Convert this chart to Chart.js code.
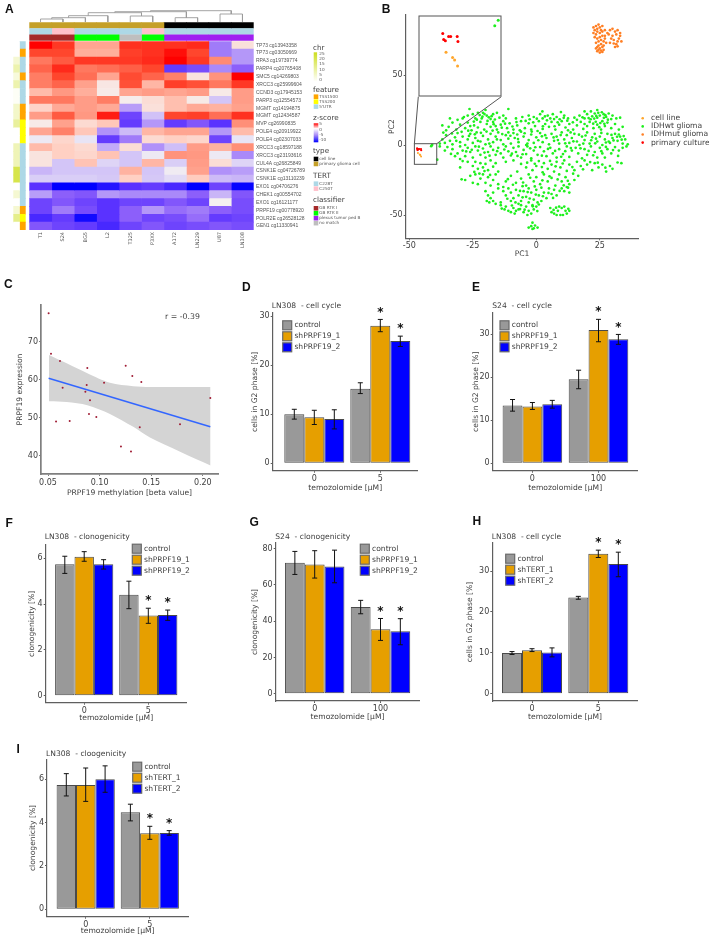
<!DOCTYPE html>
<html>
<head>
<meta charset="utf-8">
<title>PRPF19 figure</title>
<script src="https://cdn.jsdelivr.net/npm/chart.js@4"></script>
<style>
  body { margin: 0; background: #fff; }
  #page { position: relative; width: 709px; height: 936px; overflow: hidden; background: #fff; }
  .letter { position: absolute; font: bold 12px "Liberation Sans"; line-height: 12px; color: #111; }
</style>
</head>
<body>
<div id="page"></div>
<script>
// ---- panel A: heatmap
const samples = ['T1', 'S24', 'BG5', 'L2', 'T325', 'P3XX', 'A172', 'LN229', 'U87', 'LN308'];
const probes = ['TP73 cg13943358', 'TP73 cg03050669', 'RPA3 cg19739774', 'PARP4 cg20765408', 'SMC5 cg14269803',
  'XRCC3 cg25999604', 'CCND3 cg17945153', 'PARP3 cg12554573', 'MGMT cg14194875', 'MGMT cg12434587',
  'MVP cg26990835', 'POLE4 cg20919922', 'POLE4 cg02307033', 'XRCC3 cg18597188', 'XRCC3 cg23193616',
  'CUL4A cg26825849', 'CSNK1E cg04726789', 'CSNK1E cg13110239', 'EXO1 cg04706276', 'CHEK1 cg00554702',
  'EXO1 cg16121177', 'PRPF19 cg00778920', 'POLR2E cg26528128', 'GEN1 cg11330941'];
const zScores = [
  [5, 4.2, 2, 2, 4.3, 4.3, 4.3, 4.4, -4, 0.5],
  [4, 4, 1.8, 1.8, 4.1, 4.3, 4.8, 4, -4, -3],
  [3, 3.6, 4.2, 4.2, 4.2, 4.4, 5, 4.2, 2.6, -3],
  [3.4, 4.4, 3, 3.2, 3.5, 4, -7, -6, -3.5, -5],
  [2.9, 4, 3.2, 2, 3.9, 3.4, 2.8, 0.4, 2.4, 5],
  [2.9, 3.4, 2.1, 0.3, 3.8, 1.6, 4.1, 3.8, 3, 4.2],
  [1.5, 2.3, 1.8, 0.2, 2, 2.2, 2, 2.2, 0.2, 2.2],
  [3, 3, 2.2, 2.9, 0.1, 0.6, 1.4, 0.2, -1.5, 2.2],
  [0.9, 1.9, 2.2, 1.9, -2.8, 0.5, 1.4, 1.9, 1.7, 2.1],
  [2.2, 3.6, 2.3, 4.6, -6.5, -1.6, 4, 4.1, 3.2, 4.3],
  [0.2, 2.1, 0.7, 1.2, -7, -3, -7, -5.5, -7.5, 2.5],
  [2, 2.8, 1.2, -3.2, -1.8, 1.6, 2, 2, -3, 1.5],
  [-0.3, 0.8, -0.5, -7, -4, 0.7, 1, 0.8, -6.5, -0.5],
  [1.5, 1, 0.7, -2.3, 0.6, -3.2, -1.7, 2.2, 1.7, 2.5],
  [0.4, 1, 0.8, 1.3, -1.5, -0.3, 2.4, 2.3, -0.3, -3.5],
  [0.4, -1.5, 1.3, -1, -1.5, 1.6, -1.2, 2.2, 0.6, -1],
  [-2, -1.5, -1.5, -1.5, 1.7, -1.5, -0.2, 2.1, -3.2, -2.8],
  [-1.2, -1.2, -1.2, -1.4, 1, -1.4, -0.8, 1.1, -1.8, -2],
  [-7.5, -10, -10, -9, -7.5, -7, -8, -10, -6.5, -9.8],
  [-2.8, -5, -5.5, -3, -3.5, -3.5, -3.5, -5, -2, -5.5],
  [-6.5, -5.5, -6.5, -7.5, -6.5, -6.5, -5.5, -6.5, 0, -6],
  [-6.5, -4, -6, -7.5, -5, -3, -4.5, -4, -5, -6],
  [-8, -7, -9.5, -7.5, -5, -6.5, -6, -4.5, -7, -6.5],
  [-5.5, -6.5, -7, -8, -6.5, -5.5, -6.5, -6, -5.5, -6]
];
const chrValues = [0, 0, 5, 9, 4, 9, 1, 1, 6, 6, 11, 0, 0, 8, 8, 8, 20, 20, 0, 5, 0, 5, 13, 0];
const featureRows = ['5UTR', 'TSS1500', '5UTR', '5UTR', 'TSS1500', '5UTR', '5UTR', '5UTR', 'TSS1500', 'TSS1500', 'TSS200', 'TSS200',
  'TSS200', '5UTR', '5UTR', '5UTR', '5UTR', '5UTR', '5UTR', '5UTR', '5UTR', 'TSS1500', 'TSS200', 'TSS1500'];
const typeCols = ['glioma', 'glioma', 'glioma', 'glioma', 'glioma', 'glioma', 'line', 'line', 'line', 'line'];
const tertCols = ['C228T', 'C250T', 'C228T', 'C228T', 'C228T', 'C250T', 'C228T', 'C228T', 'C228T', 'C228T'];
const classCols = ['rtk1', 'rtk1', 'rtk2', 'rtk2', 'none', 'rtk2', 'plexus', 'plexus', 'plexus', 'plexus'];
const dendroX = [0.5, 0.5, 1.5, 1.5, null, 1, 1, 2.5, 2.5, null, 1.75, 1.75, 3.5, 3.5, null, 4.5, 4.5, 5.5, 5.5, null,
  2.625, 2.625, 5, 5, null, 6.5, 6.5, 7.5, 7.5, null, 3.81, 3.81, 7, 7, null, 8.5, 8.5, 9.5, 9.5, null, 5.4, 5.4, 9, 9];
const dendroH = [0, 3, 3, 0, null, 3, 4.3, 4.3, 0, null, 4.3, 6.3, 6.3, 0, null, 0, 6, 6, 0, null,
  6.3, 9.3, 9.3, 6, null, 0, 4.3, 4.3, 0, null, 9.3, 10.3, 10.3, 4.3, null, 0, 8, 8, 0, null, 10.3, 11.3, 11.3, 8];

// ---- panel B: PCA
const gliomaPoints = [
  [-26.3,25.7],[-20,25],[-11,25.7],[2.4,24],[9.7,23.5],[19,24],[21.5,24],[24,25],
  [-34,19],[-31,18],[-28.5,20],[-27,21],[-25,22],[-23,23],[-21,23],[-19.5,21],[-17,22],[-15.5,23],[-13,21],[-12,19],[-24,19],[-21.5,19],[-18,18.5],[-14.5,19.5],[-8,19],[-5.5,20],[-3,21],[-1,20],[1.5,22],[4.5,21],[6.5,22],[8,20],[11,21],[12.5,19],[15,19.5],[17,21],[20,22],[22,20.5],[23,22.5],[25,21],[26.5,22],[27.5,20],[28.5,22.5],[30,21],[31.5,19],[33,19.5],[-29,19],[5.5,19],[7,18.5],[2.5,19],[16,18],[19,19],[24,19.5],[29.5,18.5],
  [-37,14],[-34.5,13],[-33,16],[-31.5,11],[-30,14.5],[-28,12],[-27,16],[-25.5,10.5],[-24.5,14],[-23,12.5],[-22,16.5],[-20.5,11],[-19.5,15],[-18,13],[-17,16.5],[-15.5,11],[-14,14.5],[-13,17],[-11.5,12],[-10.5,15.5],[-9,11],[-7.5,14],[-6,17],[-4.5,12],[-3,15.5],[-2,11],[-0.5,13.5],[1,17],[2.5,11.5],[3.5,15],[5,13],[6,16.5],[7.5,11],[9,14.5],[10,17],[11.5,12.5],[13,15],[14.5,11],[16,14],[17.5,16.5],[18.5,11.5],[20,13.5],[21,16.5],[22.5,12],[24,14.5],[25.5,11],[27,13.5],[28,16],[29.5,12],[31,15],[32.5,11],[34,13],[-35.5,10.5],[-26,13.5],[-16,13.5],[-6.5,10.5],[0.5,10],[12.5,10.5],[26,17],[19,15],
  [-38,1],[-37,4],[-35.5,7],[-34,3],[-33,0.5],[-32,5.5],[-31,8.5],[-30,2],[-29,6],[-28,0],[-27,4],[-26,8],[-25,1.5],[-24,5],[-23.5,9],[-22,2.5],[-21,6.5],[-20,0.5],[-19,4],[-18,8],[-17,2],[-16,6],[-15,9],[-14,3.5],[-13,0.5],[-12,7],[-11,4.5],[-10,1],[-9,8.5],[-8.5,5],[-7,2],[-6,9.5],[-5,6],[-4,0],[-3,3.5],[-2,7.5],[-1,1.5],[0,5.5],[1.5,8.5],[2.5,2],[4,5],[5,0.5],[6,8],[7,3],[8,6],[9,1],[10,9],[11,4],[12,7],[13,1.5],[14,5],[15,8],[16,2.5],[17,0],[18,6],[19,3.5],[20,9],[21,1],[22,5.5],[23,8],[24,2.5],[25,6],[26,0],[27,4],[28,8],[29,1.5],[30,5],[31,8],[32,3],[33,6],[34,1],[35,4],[36,0.5],[-36,1.5],[-31.5,3],[-26.5,6.5],[-23,3],[-18.5,1],[-15.5,4],[-11,9],[-7.5,7.5],[-3.5,1],[3.5,7],[8.5,3.5],[13.5,9],[18.5,1],[23.5,4.5],[28.5,2.5],[32.5,7.5],
  [-38,-1],[-36,-4],[-35,-1.5],[-33,-3],[-31,-6],[-30,-1],[-29,-4],[-28,-8],[-27,-2],[-26,-5],[-25,-9],[-24,-1],[-23,-4],[-22,-7],[-21,-2.5],[-20,-9],[-19,-5],[-18,-1],[-17,-3.5],[-16,-7],[-15,-2],[-14,-6],[-13,-9],[-12,-1],[-11,-4.5],[-10,-7.5],[-9,-2],[-8,-5],[-7,-1],[-6,-9],[-5,-3.5],[-4,-6.5],[-3.5,-1],[-2,-9.5],[-1,-4],[0.5,-7],[1.5,-1.5],[3,-4.5],[4,-8],[5.5,-2],[6.5,-6],[8,-9],[9,-3],[10.5,-6.5],[12,-1],[13,-8.5],[14,-4],[15.5,-2],[16.5,-6],[18,-9.5],[19,-3],[20,-7],[21.5,-1],[23,-5],[24,-9],[25,-2],[26,-6],[27,-9],[28,-3],[29.5,-6],[31,-1.5],[32.5,-4],[34,-2],[35.5,-1],[-39,-10.5],[-32,-8],[-30,-10],
  [-30,-16],[-29,-11.5],[-27,-12],[-24,-12],[-22,-13],[-20,-13.5],[-18,-11],[-16,-13],[-12,-12],[-9,-11],[-6,-13.5],[-4,-16],[-2,-11],[0,-15],[1,-11.5],[3,-13],[4.5,-17],[6,-14],[8,-12],[9.5,-16],[11,-11],[13,-14],[15,-18],[16,-12],[17.5,-15],[19,-11],[20,-14],[22,-18],[23,-13],[24.5,-16],[26,-14],[27.5,-19],[29,-15],[30,-17],[32,-12.5],[33.5,-13],[-25,-15],[-23,-17],[-21,-16],[-19,-18],[-17,-15.5],[-15,-19],[-7.5,-19],[-1.5,-18],[2.5,-19.5],[7,-19],[12,-18.5],
  [-28,-25],[-26,-22],[-25,-27],[-24,-21],[-23,-28],[-22,-24],[-21,-21],[-20,-27],[-19,-23],[-18,-29],[-17,-25],[-16,-21],[-15,-28],[-12,-26],[-13,-30],[-10,-22],[-8,-27],[-6,-24],[-4,-29],[-3,-21],[-1,-26],[0,-23],[1.5,-28],[3,-21],[4.5,-26],[6,-23.5],[7.5,-29],[9,-21],[10,-26],[11.5,-23],[13,-28],[14.5,-20.5],[15,-25],[16.5,-22],[12,-30],[-29.4,-24.5],
  [-20,-33],[-19,-36],[-18,-38],[-17,-34],[-19.5,-40],[-18.5,-41],[-17,-40],[-15,-31],[-13,-33],[-12,-36],[-11,-31],[-10,-34],[-9,-38],[-8,-32],[-7,-36],[-6,-40],[-5,-33],[-4,-37],[-3,-31],[-2,-34],[-1,-39],[0,-32],[1,-36],[2,-30.5],[3,-34],[4,-38],[5,-31],[6,-35],[7,-32],[8,-36],[10,-31],[11,-33],[12.5,-30.5],[13,-34],[-14,-41],[-10,-40],[-7,-42],[-3,-41],[-1.5,-43],[0.5,-41],[2,-40],
  [-16,-42],[-14,-43],[-12,-44],[-11,-47],[-10,-48],[-9,-45],[-8,-47],[-7,-46],[-6,-43],[-5,-48],[-4,-44],[-3,-47],[-2,-49],[-1,-46],[0,-44],[1,-42.5],[-12.5,-46],[-8.5,-49],[-3.5,-50],[5.5,-45],[6,-48],[7,-49],[8,-50],[9,-44],[10,-45],[11,-44],[11.5,-47],[12,-49],[13,-47],[9.5,-50],[10.5,-50],[8.5,-47],
  [-1.5,-55.5],[-2,-58],[-3,-59],[-1,-59.5],[-0.5,-57.5],[0.5,-59],[-1.5,-60],
  [-41.37,-0.87],[-41,0.15],
  [-22.3,21.4],[-21.2,20.2],[-20.4,22.1],[-18.7,19.8],[-17.6,20.6],[-16.3,18.2],[-24.6,16.7],[-23.4,18.1],[-19.2,17.2],[-16.8,14.9],[-13.6,12.4],[-12.3,15.2],[-26.8,10.2],[-29.4,9.4],[-33.2,8.3],[-36.6,8.9],[-24.2,7.6],[-21.8,8.7],[-19.6,9.6],[-17.2,10.3],[-13.4,7.8],[-10.2,6.6],[-7.2,4.2],[-4.6,8.4],[-1.8,9.6],[0.8,3.4],[2.2,6.2],[6.8,5.4],[9.6,7.1],[11.4,1.2],[14.6,2.6],[16.8,7.4],[19.4,6.8],[21.6,3.4],[23.2,1.2],[25.6,8.6],[27.4,1.8],[29.6,7.2],[30.4,3.3],[33.6,3.8],[31.8,5.9],[34.4,6.4],
  [20.6,19.2],[21.4,18.4],[22.8,18.9],[23.6,20.8],[24.4,23],[25.8,23.4],[26.6,19.4],[27.2,21.3],[28.2,18.1],[22.4,15.2],[23.4,16.6],[25.2,15.7],[26.8,15.1],[24.8,12.7],[18.2,19.8],[14.4,16.2],[12.2,17.4],[8.4,16.2],[7.2,13.4],[4.2,17.6],[2.6,13.4],[-1.2,16.2],[-4.2,17.2],[-7.8,16.4],[-9.4,13.2],[-2.6,18.4],[0.2,18.8],[3.4,20.4],[9.2,18.4],[10.8,19.4],
  [-25.4,-3.4],[-22.6,-1.2],[-20.4,-5.4],[-18.4,-7.6],[-15.4,-4.4],[-12.6,-3.2],[-9.6,-6.2],[-7.4,-7.8],[-5.4,-6.6],[-2.4,-2.4],[-0.4,-1.6],[2.2,-7.6],[4.6,-2.8],[7.4,-4.2],[9.8,-8.4],[11.4,-4.4],[13.6,-2.2],[17.4,-2.4],[20.6,-4.2],[22.4,-7.4],[25.6,-4.4],[27.4,-1.4],[30.2,-3.6],[32.2,-7.8],[-33.6,-6.4],[-27.6,-4.6],
  [-24.4,-19.2],[-22.4,-20.4],[-20.4,-18.6],[-18.2,-21.4],[-3.6,-12.6],[-0.6,-13.4],[2.2,-15.8],[5.4,-11.4],[7.6,-15.2],[10.4,-13.2],[14.2,-15.8],[18.4,-17.4],[21.2,-12.2],[24.2,-12.6],[27.2,-16.2],
  [-11.2,-24.4],[-9.2,-28.4],[-5.2,-26.8],[-2.4,-23.4],[-0.6,-29.6],[2.4,-25.2],[5.2,-22.4],[8.4,-24.6],[-5.4,-29.4],[10.8,-28.8],[12.4,-25.6],
  [-11.4,-38.4],[-8.2,-41],[-5.4,-37.4],[-2.6,-38.2],[-0.2,-35.4],[2.6,-36.6],[4.8,-34.2],[6.6,-37.8],[9.2,-32.8],[-3.4,-33.6],[-6.4,-32.8],
  [-13.6,-45.4],[-9.6,-43.2],[-6.4,-45.8],[-4.6,-46.2],[-1.4,-43.8],[0.4,-47.2],[6.8,-46.4],[7.8,-44.8],[12.6,-45.6]
];
const mutantPoints = [[22.5,84],[23,82],[23.5,85],[24,83],[24.5,86],[25,84],[25.5,82],[26,85],[22.5,80],[23.5,79],[24,81],[25,80],[26,81],[27,82],[23,77],[24,76],[25,77],[26,78],[27,76],[24.5,74],[25.5,75],[26.5,74],[23.5,73],[24.5,71],[25.5,72],[26.5,71],[27.5,73],[24,70],[25,69],[26,70],[24.5,68],[25.5,67.5],[26.5,68],[25,66],[26,66.5],[24,67],[23.5,69],[27,78],[28,80],[29,82],[30,83],[31,81],[32,82],[31.5,79],[33,78],[32.5,76],[33.5,74],[32,74],[31.5,72],[30.5,75],[31,70],[29.5,76],[29,73],[28.5,79],[33,80],[30,78],[32,70.5],[30.5,72.5]];
const linePoints = [[-46.6,-5.74],[-45.9,-6.7],[-45.68,-7.18],[-45.36,-8.26]];
const culturePoints = [[-46.95,-2.31],[-46.85,-3.4],[-46.67,-3.64],[-46.32,-2.86],[-46.1,-2.86],[-45.4,-2.86],[-45.32,-3.76]];
const pcaNames = ['cell line', 'IDHwt glioma', 'IDHmut glioma', 'primary culture'];

// ---- panel C: correlation
const methylation = [0.0506,0.0529,0.0616,0.0881,0.1253,0.1317,0.1404,0.1043,0.0875,0.0642,0.0862,0.0907,0.2073,0.0897,0.0968,0.0578,0.071,0.1389,0.1779,0.1207,0.1304];
const expression = [77.5,66.8,64.9,63.1,63.7,61,59.4,59.2,58.6,57.9,56.8,54.6,55.2,51,50.2,49,49.1,47.5,48.3,42.4,41.1];
const fitX = [0.0506, 0.2073];
const fitY = [60.4, 47.6];
const bandX = [0.051, 0.0681, 0.0881, 0.11, 0.1326, 0.1488, 0.2075];
const bandHigh = [66.5, 64.3, 61.7, 59.2, 58.3, 58.1, 58.1];
const bandLow = [54.3, 54.1, 53.3, 51, 47.6, 44.8, 37.4];

// ---- panels D-I: bars, one row per series, one column per dose
const dosesFive = ['0', '5'];
const dosesHundred = ['0', '100'];
const seriesPrpf = ['control', 'shPRPF19_1', 'shPRPF19_2'];
const seriesTert = ['control', 'shTERT_1', 'shTERT_2'];
const dMeans = [[10, 15.2], [9.4, 28], [9, 24.9]];
const dLow = [[9, 14.2], [7.9, 26.8], [7, 23.8]];
const dHigh = [[11, 16.4], [10.8, 29.3], [10.9, 25.9]];
const eMeans = [[13.4, 19.5], [13.2, 30.9], [13.7, 28.8]];
const eLow = [[12.1, 17.3], [12.5, 28.2], [12.8, 27.6]];
const eHigh = [[14.8, 21.6], [14.1, 33.4], [14.6, 29.9]];
const fMeans = [[5.74, 4.41], [6.07, 3.5], [5.74, 3.52]];
const fLow = [[5.34, 3.8], [5.87, 3.16], [5.53, 3.29]];
const fHigh = [[6.09, 5], [6.29, 3.82], [5.94, 3.74]];
const gMeans = [[72.2, 47.8], [71.3, 35.5], [70.2, 34.4]];
const gLow = [[65.8, 44.1], [63.8, 29.4], [61.2, 27]];
const gHigh = [[78.5, 51.5], [78.9, 41.5], [79.2, 41.4]];
const hMeans = [[9.94, 23.55], [10.6, 34.2], [10.1, 31.7]];
const hLow = [[9.6, 23.1], [10.3, 33.3], [9, 28.6]];
const hHigh = [[10.3, 23.8], [11, 35.1], [11.2, 34.6]];
const iMeans = [[5.74, 4.48], [5.74, 3.51], [6, 3.52]];
const iLow = [[5.23, 4.08], [4.98, 3.23], [5.4, 3.42]];
const iHigh = [[6.26, 4.85], [6.52, 3.83], [6.62, 3.63]];

const barColors = ['#999999', '#E69F00', '#0000FF'];
const textColor = '#404040';
const axisColor = '#5f5f5f';
Chart.defaults.font.family = '"DejaVu Sans"';
Chart.defaults.color = textColor;
Chart.defaults.animation = false;
Chart.defaults.responsive = false;

const page = document.getElementById('page');

function addCanvas(x, y, w, h) {
  const c = document.createElement('canvas');
  c.width = w;
  c.height = h;
  c.style.cssText = 'position:absolute;left:' + x + 'px;top:' + y + 'px;width:' + w + 'px;height:' + h + 'px';
  page.appendChild(c);
  return c;
}

function writeText(ctx, str, x, y, size, color, align, weight) {
  ctx.save();
  ctx.font = (weight || 'normal') + ' ' + size + 'px "DejaVu Sans"';
  ctx.fillStyle = color || textColor;
  ctx.textAlign = align || 'left';
  ctx.textBaseline = 'middle';
  ctx.fillText(str, x, y);
  ctx.restore();
}

// axis with a fixed box so the plot area lands where the reference has it
function fixedAxis(o) {
  return {
    type: 'linear',
    min: o.min,
    max: o.max,
    position: o.pos,
    offset: false,
    border: { color: o.line || axisColor, width: o.width || 1.2 },
    grid: { drawOnChartArea: false, drawTicks: true, tickLength: 2, color: o.line || axisColor, offset: false },
    ticks: { font: { size: 8 }, color: textColor, padding: o.tickPad === undefined ? 1 : o.tickPad, autoSkip: false, maxRotation: 0, callback: o.format },
    title: { display: true, text: o.title, font: { size: 7.6 }, color: textColor, padding: o.titlePad },
    afterBuildTicks(s) { s.ticks = o.values.map(v => ({ value: v })); },
    afterFit(s) {
      if (s.isHorizontal()) s.height = o.box; else s.width = o.box;
    }
  };
}

function letter(t, x, y) {
  const d = document.createElement('div');
  d.className = 'letter';
  d.textContent = t;
  d.style.left = x + 'px';
  d.style.top = y + 'px';
  page.appendChild(d);
}

function barPanel(p) {
  const left = Math.floor(p.yTitleX - 7);
  const top = Math.floor(p.top - 22);
  const right = Math.ceil(p.right + 26);
  const bottom = Math.ceil(p.xTitleY + 6);
  const lh = 7.6 * 1.2;
  const canvas = addCanvas(left, top, right - left, bottom - top);
  const step = p.c1 - p.c0;
  new Chart(canvas, {
    type: 'bar',
    data: {
      labels: [0, 1],
      datasets: p.means.map((m, i) => ({
        label: p.names[i],
        data: m,
        backgroundColor: barColors[i],
        borderColor: '#4a4a4a',
        borderWidth: 1,
        borderSkipped: false,
        categoryPercentage: p.groupW / step,
        barPercentage: 1
      }))
    },
    options: {
      layout: { padding: { left: 0, top: p.top - top, right: right - p.right, bottom: 0 } },
      plugins: { legend: { display: false }, tooltip: { enabled: false } },
      scales: {
        x: fixedAxis({
          pos: 'bottom', min: (p.left - p.c0) / step, max: (p.right - p.c0) / step, values: [0, 1],
          format: v => p.doses[v], title: 'temozolomide [µM]', box: bottom - p.bottom,
          titlePad: { top: 0, bottom: bottom - p.xTitleY - lh / 2 }
        }),
        y: fixedAxis({
          pos: 'left', min: (p.zero - p.bottom) / p.perUnit, max: (p.zero - p.top) / p.perUnit, values: p.ticks,
          format: v => String(v), title: p.yTitle, box: p.left - left,
          titlePad: { top: p.yTitleX - lh / 2 - left, bottom: 0 }
        })
      }
    },
    plugins: [{
      id: 'extras',
      afterDatasetsDraw(c) {
        const ctx = c.ctx, yScale = c.scales.y;
        ctx.save();
        ctx.strokeStyle = '#111';
        ctx.lineWidth = 1;
        p.means.forEach((m, i) => {
          c.getDatasetMeta(i).data.forEach((bar, j) => {
            const lo = yScale.getPixelForValue(p.low[i][j]);
            const hi = yScale.getPixelForValue(p.high[i][j]);
            ctx.beginPath();
            ctx.moveTo(bar.x, lo); ctx.lineTo(bar.x, hi);
            ctx.moveTo(bar.x - 2.5, lo); ctx.lineTo(bar.x + 2.5, lo);
            ctx.moveTo(bar.x - 2.5, hi); ctx.lineTo(bar.x + 2.5, hi);
            ctx.stroke();
            if (i > 0 && j === 1) writeText(ctx, '*', bar.x, hi - 7, 12, '#111', 'center', 'bold');
          });
        });
        ctx.restore();
        writeText(ctx, p.title, p.titleX - left, p.titleY - top, 7.6);
        p.names.forEach((n, i) => {
          const cy = p.legendY + i * 11 - top, sx = p.legendX - left;
          ctx.fillStyle = barColors[i];
          ctx.fillRect(sx, cy - 4.5, 9, 9);
          ctx.strokeStyle = '#6a6a6a';
          ctx.lineWidth = 1.2;
          ctx.strokeRect(sx, cy - 4.5, 9, 9);
          writeText(ctx, n, sx + 11.7, cy, 7.6);
        });
      }
    }]
  });
}

// ---- draw panel A
const heatLeft = 29.3, heatRight = 253.7, heatTop = 41.3, heatBottom = 230;
const zStops = [[-10, [0, 0, 255]], [-7.5, [90, 50, 255]], [-5, [140, 95, 250]], [-2.5, [190, 165, 248]], [-0.5, [232, 228, 245]],
  [0, [245, 240, 240]], [1, [255, 208, 195]], [2, [255, 165, 145]], [3, [255, 120, 95]], [4, [255, 70, 45]], [5, [255, 0, 0]]];

function zColor(z) {
  for (let i = 1; i < zStops.length; i++) {
    if (z <= zStops[i][0]) {
      const a = zStops[i - 1], b = zStops[i], t = (z - a[0]) / (b[0] - a[0]);
      return 'rgb(' + a[1].map((v, k) => Math.round(v + (b[1][k] - v) * t)).join(',') + ')';
    }
  }
  return 'rgb(255,0,0)';
}

function chrColor(v) {
  const t = v / 25;
  return 'rgb(' + Math.round(255 - 50 * t) + ',' + Math.round(255 - 33 * t) + ',' + Math.round(255 - 225 * t) + ')';
}

const featureColors = { TSS1500: '#FFA500', TSS200: '#FFFF00', '5UTR': '#ADD8E6' };
const typeColors = { line: '#000000', glioma: '#C5A028' };
const tertColors = { C228T: '#ADD8E6', C250T: '#FFC0CB' };
const classColors = { rtk1: '#A52A2A', rtk2: '#00FF00', plexus: '#A020F0', none: '#BEBEBE' };

const heatW = 385, heatH = 262;
const cellAxis = {
  type: 'linear', min: 0, max: 10, stacked: true, position: 'bottom',
  border: { display: false },
  grid: { display: false, tickLength: 0 },
  ticks: { font: { size: 5 }, color: '#555', padding: 2, autoSkip: false, minRotation: 90, maxRotation: 90, callback: (v, i) => samples[i] },
  afterBuildTicks(s) { s.ticks = samples.map((n, i) => ({ value: i + 0.5 })); },
  afterFit(s) { s.height = heatH - heatBottom; }
};

new Chart(addCanvas(0, 0, heatW, heatH), {
  type: 'bar',
  data: {
    labels: probes,
    datasets: samples.map((name, col) => ({
      label: name,
      data: probes.map(() => 1),
      backgroundColor: zScores.map(row => zColor(row[col])),
      barPercentage: 1,
      categoryPercentage: 1,
      borderWidth: 0
    }))
  },
  options: {
    indexAxis: 'y',
    layout: { padding: { left: heatLeft, top: heatTop, right: 0, bottom: 0 } },
    plugins: { legend: { display: false }, tooltip: { enabled: false } },
    scales: {
      x: cellAxis,
      y: {
        type: 'category', stacked: true, position: 'right', offset: true,
        border: { display: false },
        grid: { display: false, tickLength: 0 },
        ticks: { font: { size: 5, family: '"Liberation Sans"' }, color: '#555', padding: 2.3, autoSkip: false },
        afterFit(s) { s.width = heatW - heatRight; }
      }
    }
  },
  plugins: [{
    id: 'heatLegends',
    afterDraw(c) {
      const ctx = c.ctx;
      const sx = 313.7, lx = 319.3, small = 4.2, big = 7.2;
      const swatches = (list, firstY) => list.forEach((it, i) => {
        const y = firstY + i * 4.95;
        ctx.fillStyle = it[1];
        ctx.fillRect(sx, y - 2.3, 4.6, 4.6);
        writeText(ctx, it[0], lx, y, small, '#555');
      });
      writeText(ctx, 'chr', sx - 0.7, 47.7, big);
      const g1 = ctx.createLinearGradient(0, 52.3, 0, 81.7);
      g1.addColorStop(0, chrColor(25));
      g1.addColorStop(1, '#ffffff');
      ctx.fillStyle = g1;
      ctx.fillRect(sx, 52.3, 3.4, 29.4);
      ['25', '20', '15', '10', '5', '0'].forEach((t, i) => writeText(ctx, t, lx, 54 + i * 5.2, small, '#555'));
      writeText(ctx, 'feature', sx - 0.7, 89.7, big);
      swatches([['TSS1500', featureColors.TSS1500], ['TSS200', featureColors.TSS200], ["5'UTR", featureColors['5UTR']]], 96.7);
      writeText(ctx, 'z-score', sx - 0.7, 118.3, big);
      const g2 = ctx.createLinearGradient(0, 123.3, 0, 142.3);
      g2.addColorStop(0, '#ff0000');
      g2.addColorStop(0.28, '#ffffff');
      g2.addColorStop(0.62, '#a98cf8');
      g2.addColorStop(1, '#0000ff');
      ctx.fillStyle = g2;
      ctx.fillRect(sx, 123.3, 4.6, 19);
      ['5', '0', '-5', '-10'].forEach((t, i) => writeText(ctx, t, lx, 124.3 + i * 5.33, small, '#555'));
      writeText(ctx, 'type', sx - 0.7, 151.3, big);
      swatches([['cell line', typeColors.line], ['primary glioma cell', typeColors.glioma]], 159);
      writeText(ctx, 'TERT', sx - 0.7, 176, big);
      swatches([['C228T', tertColors.C228T], ['C250T', tertColors.C250T]], 183.7);
      writeText(ctx, 'classifier', sx - 0.7, 200.3, big);
      swatches([['GB RTK I', classColors.rtk1], ['GB RTK II', classColors.rtk2], ['plexus tumor ped B', classColors.plexus], ['no match', classColors.none]], 208.3);
    }
  }]
});

// annotation strips above the heatmap
new Chart(addCanvas(0, 20, heatW, 24), {
  type: 'bar',
  data: {
    labels: ['type', 'TERT', 'classifier'],
    datasets: samples.map((name, col) => ({
      label: name,
      data: [1, 1, 1],
      backgroundColor: [typeColors[typeCols[col]], tertColors[tertCols[col]], classColors[classCols[col]]],
      barPercentage: 0.95,
      categoryPercentage: 1,
      borderWidth: 0,
      inflateAmount: 0.33
    }))
  },
  options: {
    indexAxis: 'y',
    layout: { padding: { left: heatLeft, top: 2.3, right: heatW - heatRight, bottom: 3.3 } },
    plugins: { legend: { display: false }, tooltip: { enabled: false } },
    scales: {
      x: { display: false, stacked: true, min: 0, max: 10 },
      y: { display: false, stacked: true }
    }
  }
});

// chr and feature strips left of the heatmap
new Chart(addCanvas(0, 0, 28, heatH), {
  type: 'bar',
  data: {
    labels: probes,
    datasets: [
      { label: 'chr', data: probes.map(() => 1), backgroundColor: chrValues.map(chrColor), barPercentage: 1, categoryPercentage: 1, borderWidth: 0 },
      { label: 'feature', data: probes.map(() => 1), backgroundColor: featureRows.map(f => featureColors[f]), barPercentage: 1, categoryPercentage: 1, borderWidth: 0 }
    ]
  },
  options: {
    indexAxis: 'y',
    layout: { padding: { left: 13.3, top: heatTop, right: 2.3, bottom: heatH - heatBottom } },
    plugins: { legend: { display: false }, tooltip: { enabled: false } },
    scales: {
      x: { display: false, stacked: true, min: 0, max: 2 },
      y: { display: false, stacked: true }
    }
  }
});

// dendrogram, same column units as the heatmap
new Chart(addCanvas(0, 0, heatW, 24), {
  type: 'scatter',
  data: {
    datasets: [{
      data: dendroX.map((x, i) => ({ x: x, y: dendroH[i] })),
      showLine: true,
      spanGaps: false,
      pointRadius: 0,
      borderColor: '#9a9a9a',
      borderWidth: 0.9
    }]
  },
  options: {
    layout: { padding: { left: heatLeft, top: 10, right: heatW - heatRight, bottom: 2 } },
    plugins: { legend: { display: false }, tooltip: { enabled: false } },
    scales: {
      x: { display: false, min: 0, max: 10 },
      y: { display: false, min: 0, max: 12 }
    }
  }
});

// ---- draw panel B
const toXY = p => ({ x: p[0], y: p[1] });
const pcaColors = ['#FFA62B', '#1EF01E', '#FF7F24', '#FF0000'];
const bLeft = 405.7, bRight = 638.3, bTop = 15, bBottom = 238.3;
const bCanvas = { x: 385, y: 5, w: 324, h: 255 };
const zoomBox = { xMin: -48, xMax: -39.2, yMin: -13.8, yMax: 0.93 };
const insetRange = { xMin: -49.5, xMax: -40.7, yMin: -13.8, yMax: 0.93 };
const inset = { left: 418.3, right: 501.3, top: 15, bottom: 96.7 };

new Chart(addCanvas(bCanvas.x, bCanvas.y, bCanvas.w, bCanvas.h), {
  type: 'scatter',
  data: {
    datasets: [
      { label: pcaNames[1], data: gliomaPoints.map(toXY), backgroundColor: pcaColors[1], pointRadius: 1.35, borderWidth: 0 },
      { label: pcaNames[2], data: mutantPoints.map(toXY), backgroundColor: pcaColors[2], pointRadius: 1.35, borderWidth: 0 },
      { label: pcaNames[0], data: linePoints.map(toXY), backgroundColor: pcaColors[0], pointRadius: 1, borderWidth: 0 },
      { label: pcaNames[3], data: culturePoints.map(toXY), backgroundColor: pcaColors[3], pointRadius: 1.1, borderWidth: 0 }
    ]
  },
  options: {
    layout: { padding: { left: 0, top: bTop - bCanvas.y, right: bCanvas.x + bCanvas.w - bRight, bottom: 0 } },
    plugins: { legend: { display: false }, tooltip: { enabled: false } },
    scales: {
      x: fixedAxis({
        pos: 'bottom', min: (bLeft - 536.3) / 2.54, max: (bRight - 536.3) / 2.54, values: [-50, -25, 0, 25],
        format: v => String(v), title: 'PC1', box: bCanvas.y + bCanvas.h - bBottom,
        titlePad: { top: 0, bottom: bCanvas.y + bCanvas.h - 254 - 4.56 }
      }),
      y: fixedAxis({
        pos: 'left', min: (145 - bBottom) / 1.4, max: (145 - bTop) / 1.4, values: [-50, 0, 50],
        format: v => String(v), title: 'PC2', box: bLeft - bCanvas.x,
        titlePad: { top: 392 - 4.56 - bCanvas.x, bottom: 0 }
      })
    }
  },
  plugins: [{
    id: 'zoomMarks',
    afterDatasetsDraw(c) {
      const ctx = c.ctx, ox = bCanvas.x, oy = bCanvas.y;
      const x0 = c.scales.x.getPixelForValue(zoomBox.xMin), x1 = c.scales.x.getPixelForValue(zoomBox.xMax);
      const y0 = c.scales.y.getPixelForValue(zoomBox.yMax), y1 = c.scales.y.getPixelForValue(zoomBox.yMin);
      ctx.save();
      ctx.strokeStyle = '#555';
      ctx.lineWidth = 1;
      ctx.strokeRect(x0, y0, x1 - x0, y1 - y0);
      ctx.beginPath();
      ctx.moveTo(x0, y0); ctx.lineTo(inset.left - ox, inset.bottom - oy);
      ctx.moveTo(x1, y0); ctx.lineTo(inset.right - ox, inset.bottom - oy);
      ctx.stroke();
      ctx.restore();
      pcaNames.forEach((n, i) => {
        const y = 118.3 + i * 8.1 - oy;
        ctx.fillStyle = pcaColors[i];
        ctx.beginPath();
        ctx.arc(642.7 - ox, y, 1.3, 0, Math.PI * 2);
        ctx.fill();
        writeText(ctx, n, 651 - ox, y, 7.6);
      });
    }
  }]
});

// zoomed inset, same data on a narrower scale
new Chart(addCanvas(415, 12, 90, 88), {
  type: 'scatter',
  data: {
    datasets: [
      { data: gliomaPoints.map(toXY), backgroundColor: pcaColors[1], pointRadius: 1.5, borderWidth: 0 },
      { data: linePoints.map(toXY), backgroundColor: pcaColors[0], pointRadius: 1.5, borderWidth: 0 },
      { data: culturePoints.map(toXY), backgroundColor: pcaColors[3], pointRadius: 1.5, borderWidth: 0 }
    ]
  },
  options: {
    layout: { padding: { left: inset.left - 415, top: inset.top - 12, right: 505 - inset.right, bottom: 100 - inset.bottom } },
    plugins: { legend: { display: false }, tooltip: { enabled: false } },
    scales: {
      x: { display: false, min: insetRange.xMin, max: insetRange.xMax },
      y: { display: false, min: insetRange.yMin, max: insetRange.yMax }
    }
  },
  plugins: [{
    id: 'insetFrame',
    beforeDatasetsDraw(c) {
      const a = c.chartArea, ctx = c.ctx;
      ctx.save();
      ctx.fillStyle = '#fff';
      ctx.fillRect(a.left, a.top, a.width, a.height);
      ctx.strokeStyle = '#555';
      ctx.lineWidth = 1;
      ctx.strokeRect(a.left, a.top, a.width, a.height);
      ctx.restore();
    }
  }]
});

// ---- draw panel C
const cCanvas = { x: 12, y: 298, w: 214, h: 202 };
const cLeft = 41, cRight = 218, cTop = 305, cBottom = 474;
new Chart(addCanvas(cCanvas.x, cCanvas.y, cCanvas.w, cCanvas.h), {
  type: 'scatter',
  data: {
    datasets: [
      { data: methylation.map((x, i) => ({ x: x, y: expression[i] })), backgroundColor: '#A01C34', pointRadius: 1, borderWidth: 0, order: 0 },
      { data: fitX.map((x, i) => ({ x: x, y: fitY[i] })), showLine: true, pointRadius: 0, borderColor: '#3366FF', borderWidth: 1.5, order: 1 },
      { data: bandX.map((x, i) => ({ x: x, y: bandHigh[i] })), showLine: true, pointRadius: 0, borderWidth: 0, tension: 0.3, fill: '+1', backgroundColor: '#D4D4D4', order: 2 },
      { data: bandX.map((x, i) => ({ x: x, y: bandLow[i] })), showLine: true, pointRadius: 0, borderWidth: 0, tension: 0.3, order: 3 }
    ]
  },
  options: {
    layout: { padding: { left: 0, top: cTop - cCanvas.y, right: cCanvas.x + cCanvas.w - cRight, bottom: 0 } },
    plugins: { legend: { display: false }, tooltip: { enabled: false } },
    scales: {
      x: fixedAxis({
        pos: 'bottom', min: 0.05 + (cLeft - 48) / 1032, max: 0.05 + (cRight - 48) / 1032, values: [0.05, 0.1, 0.15, 0.2],
        format: v => v.toFixed(2), title: 'PRPF19 methylation [beta value]', box: cCanvas.y + cCanvas.h - cBottom,
        titlePad: { top: 0, bottom: cCanvas.y + cCanvas.h - 493 - 4.56 }, line: '#7f7f7f', width: 1.7, tickPad: 2
      }),
      y: fixedAxis({
        pos: 'left', min: 60 - (cBottom - 379.7) / 3.8, max: 60 - (cTop - 379.7) / 3.8, values: [40, 50, 60, 70],
        format: v => String(v), title: 'PRPF19 expression', box: cLeft - cCanvas.x,
        titlePad: { top: 20 - 4.56 - cCanvas.x, bottom: 0 }, line: '#7f7f7f', width: 1.7
      })
    }
  },
  plugins: [{
    id: 'rLabel',
    afterDraw(c) { writeText(c.ctx, 'r = -0.39', 165 - cCanvas.x, 317 - cCanvas.y, 7.8); }
  }]
});

// ---- draw panels D-I
barPanel({ means: dMeans, low: dLow, high: dHigh, names: seriesPrpf, doses: dosesFive, title: 'LN308  - cell cycle', yTitle: 'cells in G2 phase [%]', ticks: [0, 10, 20, 30],
  left: 272.7, right: 417.7, top: 313, bottom: 470.7, zero: 463.3, perUnit: 4.91, c0: 314.3, c1: 380.3, groupW: 60,
  yTitleX: 255.3, xTitleY: 487.7, titleX: 271.7, titleY: 306.3, legendX: 282.7, legendY: 325.3 });
barPanel({ means: eMeans, low: eLow, high: eHigh, names: seriesPrpf, doses: dosesHundred, title: 'S24  - cell cycle', yTitle: 'cells in G2 phase [%]', ticks: [0, 10, 20, 30],
  left: 492.7, right: 637.7, top: 312.7, bottom: 470.7, zero: 463.3, perUnit: 4.31, c0: 532.4, c1: 598.5, groupW: 59.6,
  yTitleX: 476.3, xTitleY: 487.7, titleX: 492.3, titleY: 306.3, legendX: 500, legendY: 325.3 });
barPanel({ means: fMeans, low: fLow, high: fHigh, names: seriesPrpf, doses: dosesFive, title: 'LN308  - clonogenicity', yTitle: 'clonogenicity [%]', ticks: [0, 2, 4, 6],
  left: 45.7, right: 186.7, top: 545, bottom: 702.7, zero: 695.7, perUnit: 22.9, c0: 84.2, c1: 148.3, groupW: 58.2,
  yTitleX: 32, xTitleY: 718.3, titleX: 44.7, titleY: 537.3, legendX: 132.3, legendY: 548.7 });
barPanel({ means: gMeans, low: gLow, high: gHigh, names: seriesPrpf, doses: dosesHundred, title: 'S24  - clonogenicity', yTitle: 'clonogenicity [%]', ticks: [0, 20, 40, 60, 80],
  left: 275.7, right: 419.3, top: 543, bottom: 701, zero: 693.7, perUnit: 1.8125, c0: 314.7, c1: 380.5, groupW: 59.5,
  yTitleX: 254.7, xTitleY: 717, titleX: 275.3, titleY: 537.3, legendX: 360.3, legendY: 548.7 });
barPanel({ means: hMeans, low: hLow, high: hHigh, names: seriesTert, doses: dosesFive, title: 'LN308  - cell cycle', yTitle: 'cells in G2 phase [%]', ticks: [0, 10, 20, 30],
  left: 492.3, right: 637.7, top: 543, bottom: 701, zero: 693.7, perUnit: 4.09, c0: 532, c1: 598.3, groupW: 60,
  yTitleX: 470, xTitleY: 717, titleX: 491.7, titleY: 537.3, legendX: 505.7, legendY: 558.7 });
barPanel({ means: iMeans, low: iLow, high: iHigh, names: seriesTert, doses: dosesFive, title: 'LN308  - cloogenicity', yTitle: 'clonogenicity [%]', ticks: [0, 2, 4, 6],
  left: 47, right: 188.3, top: 759.3, bottom: 916.7, zero: 909.3, perUnit: 21.67, c0: 85.7, c1: 149.8, groupW: 58.2,
  yTitleX: 32.7, xTitleY: 931.3, titleX: 46, titleY: 753.7, legendX: 132.7, legendY: 766.7 });

[['A', 5, 2.5], ['B', 381.7, 2.5], ['C', 4, 277.5], ['D', 242, 280.5], ['E', 472, 280.5],
 ['F', 5.5, 516.5], ['G', 249.5, 516], ['H', 472.5, 515], ['I', 16.5, 742.5]].forEach(l => letter(l[0], l[1], l[2]));
</script>
</body>
</html>
